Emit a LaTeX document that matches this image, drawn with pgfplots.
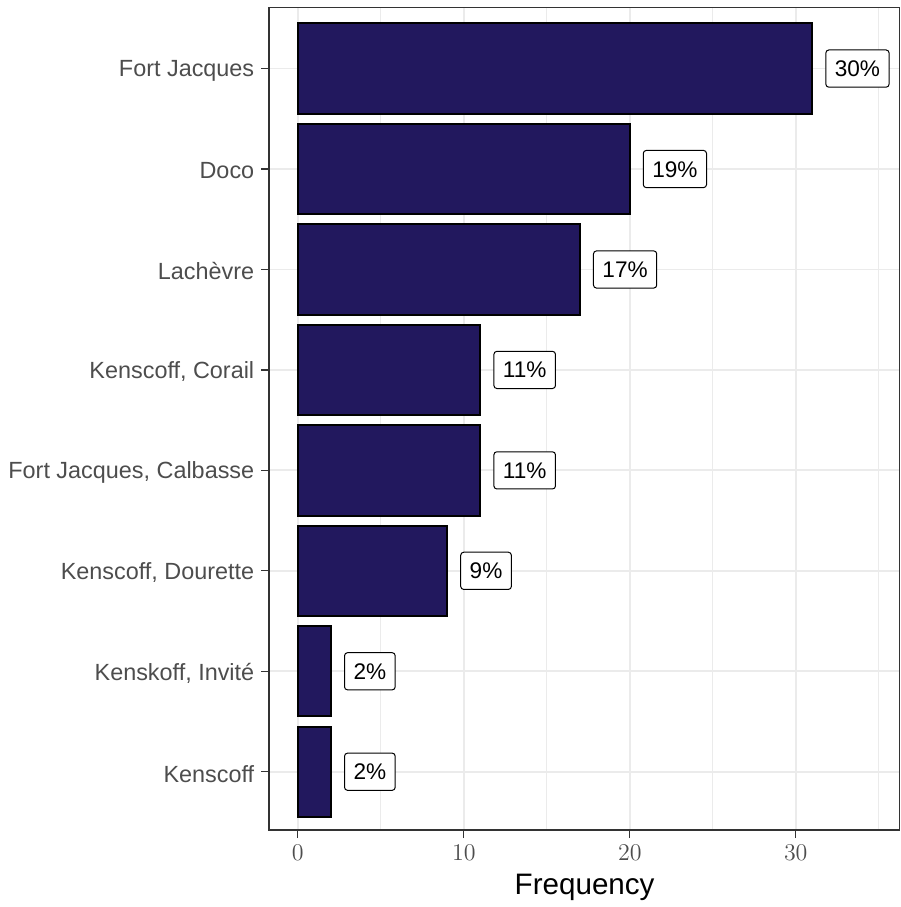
\documentclass[border=0pt]{standalone}
\usepackage{pgfplots}
\pgfplotsset{compat=1.18}
\usepackage{pgfplotstable}
\usepackage{fontspec}
\setmainfont{Liberation Sans}
\definecolor{barfill}{RGB}{34,24,94}
\definecolor{gridc}{RGB}{235,235,235}
\definecolor{gray30}{RGB}{77,77,77}
\definecolor{gray20}{RGB}{51,51,51}
\pgfplotstableread{
y val pct
1 2 2
2 2 2
3 9 9
4 11 11
5 11 11
6 17 17
7 20 19
8 31 30
}\freqdata
\begin{document}
\begin{tikzpicture}
\useasboundingbox (-134.65pt,-38.5pt) rectangle (315.85pt,415pt);
\begin{axis}[
  at={(0,0)}, anchor=south west,
  scale only axis, width=315.35pt, height=411.35pt,
  xmin=-1.72, xmax=36.28, ymin=0.42, ymax=8.61,
  xtick={0,10,20,30}, minor xtick={5,15,25,35},
  ytick={1,...,8},
  yticklabels={Kenscoff, {Kenskoff, Invité}, {Kenscoff, Dourette}, {Fort Jacques, Calbasse}, {Kenscoff, Corail}, Lachèvre, Doco, Fort Jacques},
  grid=both,
  major grid style={gridc, line width=0.9pt},
  minor grid style={gridc, line width=0.45pt},
  tick align=outside,
  major tick length=4pt,
  minor tick length=0pt,
  tick style={gray20, line width=0.6pt},
  xtick pos=left, ytick pos=left,
  axis line style={gray20, line width=0.5pt},
  ticklabel style={gray30},
  yticklabel style={font=\fontsize{11.7}{14}\selectfont, yshift=-1pt},
  xticklabel style={font=\fontsize{12.5}{14}\selectfont},
  xlabel={Frequency},
  xlabel style={font=\fontsize{14.8}{16}\selectfont, text=black},
  xbar, bar width=0.9,
]
\addplot[xbar, fill=barfill, draw=black, line width=1pt,
  point meta=explicit symbolic,
  nodes near coords={\pgfplotspointmeta\%},
  nodes near coords style={anchor=west, xshift=6.5pt, draw=black, line width=0.5pt,
    rounded corners=1.5pt, fill=white, text=black, inner xsep=4.5pt, inner ysep=5.3pt,
    text height=8pt, text depth=0pt, font=\fontsize{11.3}{13}\selectfont}
] table[x=val, y=y, meta=pct] {\freqdata};
\end{axis}
\draw[gray20, line width=1pt] (0,411.35pt) -- (0,0) -- (315.35pt,0);
\end{tikzpicture}
\end{document}
